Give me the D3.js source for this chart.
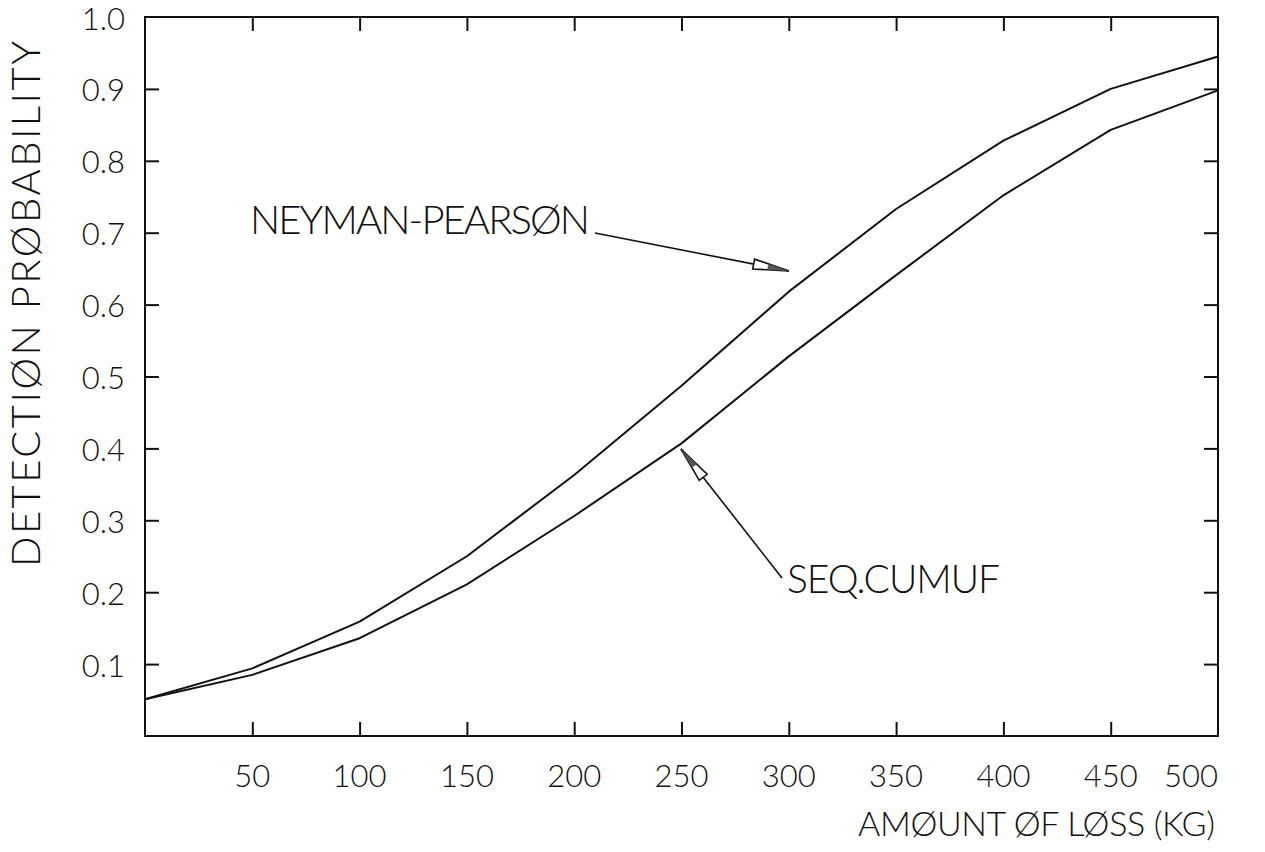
<!DOCTYPE html>
<html><head><meta charset="utf-8">
<script src="https://cdn.jsdelivr.net/npm/d3@7"></script>
<style>body{margin:0;background:#fff}text{font-family:Lato,'DejaVu Sans',sans-serif;font-weight:300;fill:#111}</style>
</head><body>
<svg id="c" width="1265" height="852"></svg>
<script>
// ---- data ----
const lossKg = [0, 50, 100, 150, 200, 250, 300, 350, 400, 450, 500];
const neymanPearson = [0.051, 0.094, 0.159, 0.250, 0.363, 0.487, 0.618, 0.733, 0.828, 0.900, 0.945];
const seqCumuf      = [0.051, 0.085, 0.136, 0.211, 0.306, 0.407, 0.528, 0.641, 0.752, 0.843, 0.898];
const xTickValues = [50, 100, 150, 200, 250, 300, 350, 400, 450, 500];
const xTickLabels = ["50", "100", "150", "200", "250", "300", "350", "400", "450", "500"];
const yTickValues = [0.1, 0.2, 0.3, 0.4, 0.5, 0.6, 0.7, 0.8, 0.9, 1.0];
const yTickLabels = ["0.1", "0.2", "0.3", "0.4", "0.5", "0.6", "0.7", "0.8", "0.9", "1.0"];
const xTitle = "AMØUNT ØF LØSS (KG)";
const yTitle = "DETECTIØN PRØBABILITY";
const labelNP = "NEYMAN-PEARSØN";
const labelSC = "SEQ.CUMUF";

// ---- layout ----
const L = 145, R = 1218, T = 17, B = 736;
const svg = d3.select("#c");
const x = d3.scaleLinear().domain([0, 500]).range([L, R]);
const y = d3.scaleLinear().domain([0, 1]).range([B, T]);
const tickLen = 14;

// frame
svg.append("rect").attr("x", L).attr("y", T).attr("width", R - L).attr("height", B - T)
  .attr("fill", "none").attr("stroke", "#111").attr("stroke-width", 2);

// axes with inward ticks, labels drawn separately
const gB = svg.append("g").attr("transform", `translate(0,${B})`)
  .call(d3.axisBottom(x).tickValues(xTickValues.slice(0, -1)).tickSize(-tickLen).tickFormat(""));
const gT = svg.append("g").attr("transform", `translate(0,${T})`)
  .call(d3.axisTop(x).tickValues(xTickValues.slice(0, -1)).tickSize(-tickLen).tickFormat(""));
const gL = svg.append("g").attr("transform", `translate(${L},0)`)
  .call(d3.axisLeft(y).tickValues(yTickValues.slice(0, -1)).tickSize(-tickLen).tickFormat(""));
const gR = svg.append("g").attr("transform", `translate(${R},0)`)
  .call(d3.axisRight(y).tickValues(yTickValues.slice(0, -1)).tickSize(-tickLen).tickFormat(""));
[gB, gT, gL, gR].forEach(g => {
  g.select(".domain").remove();
  g.selectAll(".tick line").attr("stroke", "#111").attr("stroke-width", 2);
});

// tick labels
svg.append("g").selectAll("text").data(xTickValues).join("text")
  .attr("x", d => x(d))
  .attr("y", 787)
  .attr("text-anchor", (d, i) => i === xTickValues.length - 1 ? "end" : "middle")
  .attr("font-size", 31)
  .text((d, i) => xTickLabels[i]);
svg.append("g").selectAll("text").data(yTickValues).join("text")
  .attr("x", 125).attr("y", d => y(d) + 12.5)
  .attr("text-anchor", "end").attr("font-size", 31)
  .text((d, i) => yTickLabels[i]);

// axis titles
svg.append("text").attr("x", R - 3).attr("y", 836).attr("text-anchor", "end")
  .attr("font-size", 34).attr("textLength", 357).attr("lengthAdjust", "spacing").text(xTitle);
svg.append("text").attr("transform", "translate(40,304) rotate(-90)").attr("text-anchor", "middle")
  .attr("font-size", 40).attr("textLength", 526).attr("lengthAdjust", "spacing").text(yTitle);

// curves
const line = d3.line().x((d, i) => x(lossKg[i])).y(d => y(d));
[neymanPearson, seqCumuf].forEach(s => {
  svg.append("path").attr("d", line(s)).attr("fill", "none")
    .attr("stroke", "#111").attr("stroke-width", 2).attr("stroke-linejoin", "round");
});

// annotations
function arrow(x1, y1, x2, y2) {
  svg.append("line").attr("x1", x1).attr("y1", y1).attr("x2", x2).attr("y2", y2)
    .attr("stroke", "#111").attr("stroke-width", 1.6);
  const a = Math.atan2(y2 - y1, x2 - x1), len = 36, hw = 5;
  const bx = x2 - len * Math.cos(a), by = y2 - len * Math.sin(a);
  const px = -Math.sin(a) * hw, py = Math.cos(a) * hw;
  svg.append("path")
    .attr("d", `M${x2},${y2}L${bx + px},${by + py}L${bx - px},${by - py}Z`)
    .attr("fill", "#fff").attr("stroke", "#111").attr("stroke-width", 1.6);
  const mx = x2 - len * 0.6 * Math.cos(a), my = y2 - len * 0.6 * Math.sin(a);
  svg.append("path")
    .attr("d", `M${x2},${y2}L${mx + px * 0.6},${my + py * 0.6}L${mx - px * 0.6},${my - py * 0.6}Z`)
    .attr("fill", "#555").attr("stroke", "none");
}
svg.append("text").attr("x", 250).attr("y", 234).attr("font-size", 40)
  .attr("textLength", 340).attr("lengthAdjust", "spacing").text(labelNP);
arrow(595, 233, 789, 271);
svg.append("text").attr("x", 787).attr("y", 593).attr("font-size", 39)
  .attr("textLength", 213).attr("lengthAdjust", "spacing").text(labelSC);
arrow(782, 578, 681, 449);
</script>
</body></html>
